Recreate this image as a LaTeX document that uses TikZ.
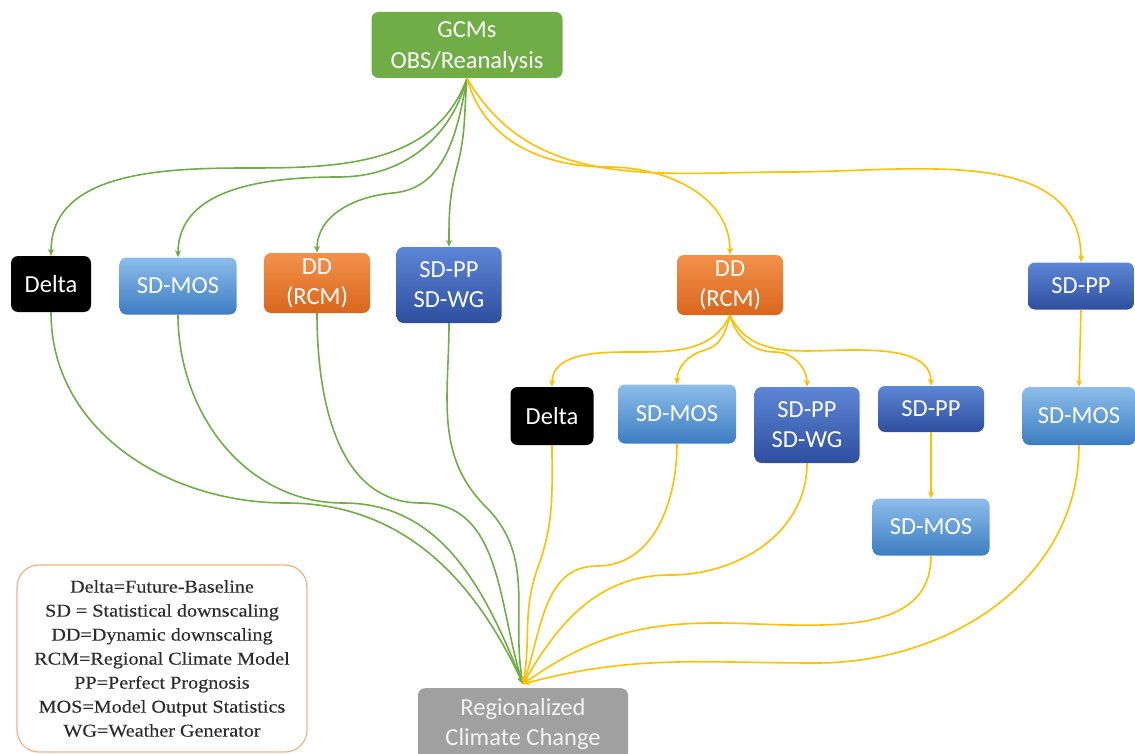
\documentclass[tikz,border=0pt]{standalone}
\usepackage{fontspec}
\setmainfont{Carlito}
\newfontfamily\legendfont[FakeStretch=1.12,FakeBold=0.3]{Liberation Serif}
\usetikzlibrary{arrows.meta}
\definecolor{cgreen}{HTML}{70AD47}
\definecolor{cyellow}{HTML}{FFC000}
\definecolor{corangeT}{HTML}{F4914A}
\definecolor{corangeB}{HTML}{D9661C}
\definecolor{clbT}{HTML}{8DBDEB}
\definecolor{clbB}{HTML}{3C7DC2}
\definecolor{cdbT}{HTML}{5E86D6}
\definecolor{cdbB}{HTML}{2E4E9E}
\definecolor{cgray}{HTML}{A0A0A0}
\definecolor{clegend}{HTML}{F4B183}
\definecolor{clegtext}{HTML}{2B2B2B}
\tikzset{
  box/.style={rounded corners=7pt, text=white, font=\fontsize{24.5}{30}\selectfont, align=center, inner sep=0pt},
  blackbox/.style={box, fill=black},
  lbbox/.style={box, top color=clbT, bottom color=clbB},
  dbbox/.style={box, top color=cdbT, bottom color=cdbB},
  orbox/.style={box, top color=corangeT, bottom color=corangeB},
  grn/.style={draw=cgreen, line width=1.6pt, -{Stealth[length=7pt,width=6pt]}},
  yel/.style={draw=cyellow, line width=1.6pt, -{Stealth[length=7pt,width=6pt]}},
}
\begin{document}
\begin{tikzpicture}[x=1pt,y=-1pt]
\useasboundingbox (0,0) rectangle (1135,754);
% nodes
\node[box, fill=cgreen, minimum width=191pt, minimum height=66pt, font=\fontsize{24.5}{31}\selectfont] (g) at (467,45) {\raisebox{-8.5pt}[0pt][0pt]{\begin{tabular}{@{}c@{}}GCMs\\OBS/Reanalysis\end{tabular}}};
\node[blackbox, minimum width=80pt, minimum height=56pt] (d1) at (51,284) {Delta};
\node[lbbox, minimum width=117pt, minimum height=57pt] (m1) at (178,286) {SD-MOS};
\node[orbox, minimum width=106pt, minimum height=60pt] (r1) at (317,283) {DD\\(RCM)};
\node[dbbox, minimum width=105pt, minimum height=76pt] (w1) at (449,285) {SD-PP\\SD-WG};
\node[orbox, minimum width=106pt, minimum height=60pt] (r2) at (730,285) {DD\\(RCM)};
\node[dbbox, minimum width=106pt, minimum height=47pt] (p4) at (1081,286) {SD-PP};
\node[blackbox, minimum width=83pt, minimum height=58pt] (d2) at (552,416) {Delta};
\node[lbbox, minimum width=118pt, minimum height=59pt] (m2) at (677,414) {SD-MOS};
\node[dbbox, minimum width=105pt, minimum height=76pt] (w2) at (807,425) {SD-PP\\SD-WG};
\node[dbbox, minimum width=106pt, minimum height=46pt] (p3) at (931,409) {SD-PP};
\node[lbbox, minimum width=113pt, minimum height=58pt] (m4) at (1079,416) {SD-MOS};
\node[lbbox, minimum width=117pt, minimum height=57pt] (m3) at (931,527) {SD-MOS};
\node[box, fill=cgray, minimum width=210pt, minimum height=72pt, anchor=north, text=white!90!gray] (rc) at (523,688) {Regionalized\\Climate Change};
\node[draw=clegend, line width=1.2pt, rounded corners=22pt, minimum width=290pt, minimum height=187pt, align=center, text=clegtext, font=\legendfont\fontsize{18}{24}\selectfont] (leg) at (162,658.5) {Delta=Future-Baseline\\SD = Statistical downscaling\\DD=Dynamic downscaling\\RCM=Regional Climate Model\\PP=Perfect Prognosis\\MOS=Model Output Statistics\\WG=Weather Generator};
\coordinate (end) at (523,684);
% via points
\coordinate (a1) at (250,168);
\coordinate (a2) at (339,177);
\coordinate (a3) at (393,193);
\coordinate (a4) at (457,167);
\coordinate (a5) at (608,167);
\coordinate (a6) at (790,172);
\coordinate (b1) at (630,352);
\coordinate (b2) at (705,350);
\coordinate (b3) at (775,352);
\coordinate (b4) at (852,350);
\coordinate (c1) at (286,503);
\coordinate (c2) at (343,503);
\coordinate (c3) at (421,503);
\coordinate (c4) at (486,507);
\coordinate (c5) at (538,567);
\coordinate (c6) at (597,566);
\coordinate (c7) at (670,575);
\coordinate (c8) at (715,623);
\coordinate (c9) at (816,663);
% top green
\draw[grn] (g.south) to[out=-110,in=0] (a1) to[out=180,in=90] (d1.north);
\draw[grn] (g.south) to[out=-105,in=0] (a2) to[out=180,in=90] (m1.north);
\draw[grn] (g.south) to[out=-100,in=5] (a3) to[out=185,in=90] (r1.north);
\draw[grn] (g.south) to[out=-95,in=75] (a4) to[out=-105,in=90] (w1.north);
% top yellow
\draw[yel] (g.south) to[out=-75,in=180] (a5) to[out=0,in=90] (r2.north);
\draw[yel] (g.south) to[out=-60,in=180] (a6) to[out=0,in=90] (p4.north);
% DD2 children
\draw[yel] (r2.south) to[out=-115,in=0] (b1) to[out=180,in=90] (d2.north);
\draw[yel] (r2.south) to[out=-105,in=15] (b2) to[out=195,in=90] (m2.north);
\draw[yel] (r2.south) to[out=-75,in=180] (b3) to[out=0,in=90] (w2.north);
\draw[yel] (r2.south) to[out=-65,in=180] (b4) to[out=0,in=90] (p3.north);
\draw[yel] (p3.south) -- (m3.north);
\draw[yel] (p4.south) -- (m4.north);
% converge green
\draw[grn] (d1.south) to[out=-90,in=180] (c1) to[out=0,in=115] (end);
\draw[grn] (m1.south) to[out=-90,in=180] (c2) to[out=0,in=112] (end);
\draw[grn] (r1.south) to[out=-90,in=180] (c3) to[out=0,in=108] (end);
\draw[grn] (w1.south) to[out=-90,in=135] (c4) to[out=-45,in=100] (end);
% converge yellow
\draw[yel] (d2.south) to[out=-90,in=70] (c5) to[out=-110,in=80] (end);
\draw[yel] (m2.south) to[out=-90,in=0] (c6) to[out=180,in=70] (end);
\draw[yel] (w2.south) to[out=-90,in=0] (c7) to[out=180,in=60] (end);
\draw[yel] (m3.south) to[out=-90,in=0] (c8) to[out=180,in=35] (end);
\draw[yel] (m4.south) to[out=-90,in=0] (c9) to[out=180,in=15] (end);
\end{tikzpicture}
\end{document}
